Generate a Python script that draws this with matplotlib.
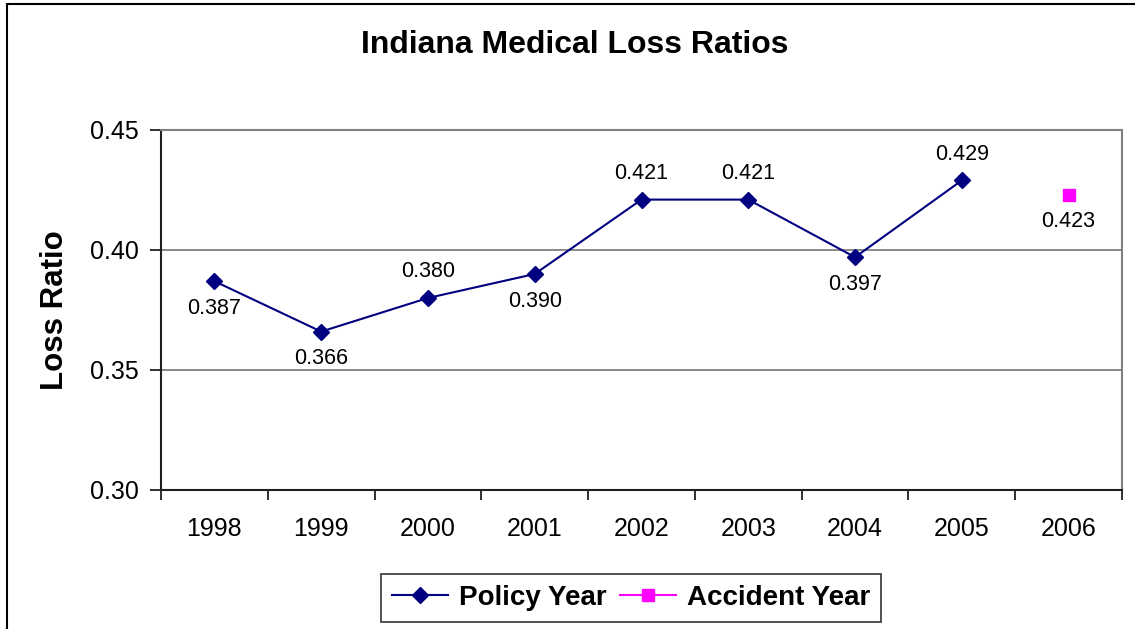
import matplotlib
matplotlib.use("Agg")
import matplotlib.pyplot as plt
from matplotlib.patches import Rectangle

years = ["1998", "1999", "2000", "2001", "2002", "2003", "2004", "2005", "2006"]
policy_year = [0.387, 0.366, 0.380, 0.390, 0.421, 0.421, 0.397, 0.429]
accident_year = [0.423]
policy_label_pos = ["below", "below", "above", "below", "above", "above", "below", "above"]
accident_label_pos = ["below"]

plt.rcParams['font.family'] = ['Liberation Sans', 'DejaVu Sans']

W, H = 1135, 629
fig = plt.figure(figsize=(W / 100, H / 100), dpi=100)
fig.patch.set_facecolor("white")

# figure border (right and bottom cut off)
fig.add_artist(Rectangle((7 / W, -0.1), 1.2, 1.1 - 4 / H, transform=fig.transFigure,
                         fill=False, edgecolor="black", linewidth=1.5))

left, right, top, bottom = 161, 1122, 130, 490
ax = fig.add_axes([left / W, 1 - bottom / H, (right - left) / W, (bottom - top) / H])

xp = list(range(len(policy_year)))
ax.plot(xp, policy_year, color="#000080", marker="D", markersize=8, linewidth=1.5,
        label="Policy Year", zorder=3)
xa = [len(policy_year) + i for i in range(len(accident_year))]
ax.plot(xa, accident_year, color="#FF00FF", marker="s", markersize=8, linewidth=1.5,
        linestyle="-", label="Accident Year", zorder=3)

for x, v, p in zip(xp, policy_year, policy_label_pos):
    off = 19 if p == "above" else -19.5
    ax.annotate(f"{v:.3f}", (x, v), xytext=(0, off), textcoords="offset points",
                ha="center", va="center", fontsize=15.5)
for x, v, p in zip(xa, accident_year, accident_label_pos):
    off = 19 if p == "above" else -19.5
    ax.annotate(f"{v:.3f}", (x, v), xytext=(0, off), textcoords="offset points",
                ha="center", va="center", fontsize=15.5)

ax.set_xlim(-0.5, len(years) - 0.5)
ax.set_ylim(0.30, 0.45)
ax.set_yticks([0.30, 0.35, 0.40, 0.45])
ax.set_yticklabels(["0.30", "0.35", "0.40", "0.45"], fontsize=18)
ax.yaxis.grid(True, color="#808080", linewidth=1.3)
ax.set_axisbelow(True)

ax.set_xticks([i - 0.5 for i in range(len(years) + 1)])
ax.set_xticklabels([])
ax.set_xticks(list(range(len(years))), minor=True)
ax.set_xticklabels(years, minor=True, fontsize=18)
ax.tick_params(axis="x", which="major", direction="out", length=7, width=1.3, color="#202020")
ax.tick_params(axis="x", which="minor", length=0, pad=19.5)
ax.tick_params(axis="y", direction="out", length=8, width=1.3, color="#202020", pad=8)

for s in ["top", "right"]:
    ax.spines[s].set_color("#808080")
    ax.spines[s].set_linewidth(1.5)
for s in ["left", "bottom"]:
    ax.spines[s].set_color("#202020")
    ax.spines[s].set_linewidth(1.5)

fig.text(575 / W, 1 - 45 / H, "Indiana Medical Loss Ratios", ha="center", va="center",
         fontsize=23, fontweight="bold")
fig.text(55 / W, 1 - 310 / H, "Loss Ratio", ha="center", va="center", rotation=90,
         fontsize=22.5, fontweight="bold")

leg = fig.legend(loc="center", bbox_to_anchor=(631 / W, 1 - 598 / H), ncol=2,
                 frameon=True, fancybox=False, edgecolor="black",
                 prop={"weight": "bold", "size": 20}, handlelength=2.0,
                 columnspacing=0.5, handletextpad=0.4, borderpad=0.4)
leg.get_frame().set_linewidth(1.2)

fig.savefig("out.png", dpi=100)
